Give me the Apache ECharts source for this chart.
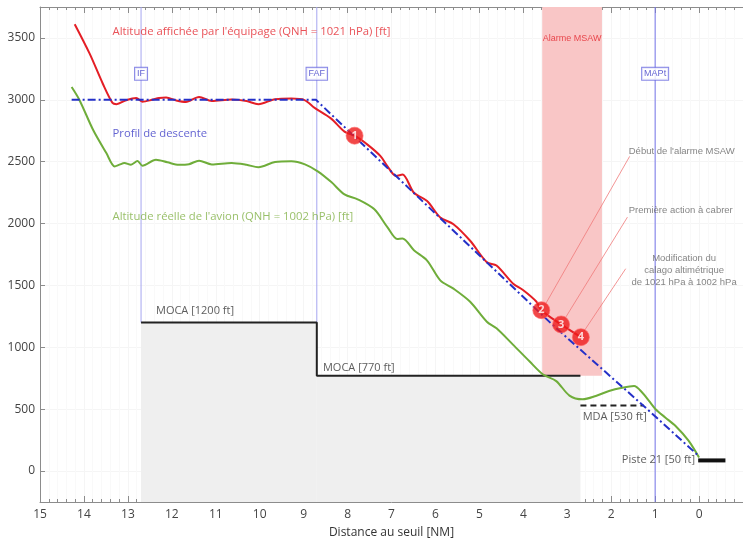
<!DOCTYPE html>
<html>
<head>
<meta charset="utf-8">
<script src="https://cdn.jsdelivr.net/npm/echarts@6/dist/echarts.min.js"></script>
<style>html,body{margin:0;padding:0;background:#fff}#c{width:743px;height:544px}</style>
</head>
<body>
<div id="c"></div>
<script>
// ---- values (x = distance au seuil [NM], y = altitude [ft]) ----
const redAltitude = [[14.21,3611],[13.87,3373],[13.57,3130],[13.35,2975],[13.26,2965],[13.04,2997],[12.81,3015],[12.67,2985],[12.45,3000],[12.29,3015],[12.13,3018],[11.9,2995],[11.68,2983],[11.38,3023],[11.09,2990],[10.64,3002],[10.3,2990],[10.03,2965],[9.65,3005],[9.28,3010],[8.98,2998],[8.75,2935],[8.38,2850],[8.07,2743],[7.84,2710],[7.54,2636],[7.25,2545],[7.09,2462],[6.9,2385],[6.75,2396],[6.49,2249],[6.19,2182],[5.89,2049],[5.59,1995],[5.21,1861],[4.83,1688],[4.61,1661],[4.23,1514],[4.0,1461],[3.7,1368],[3.59,1300],[3.14,1185],[2.69,1082]];
const greenAltitude = [[14.28,3103],[14.1,2997],[13.79,2756],[13.49,2570],[13.3,2462],[13.19,2476],[13.08,2489],[12.93,2476],[12.78,2505],[12.67,2468],[12.36,2516],[12.1,2495],[11.84,2475],[11.61,2480],[11.38,2508],[11.09,2478],[10.64,2489],[10.3,2475],[10.03,2455],[9.65,2497],[9.28,2503],[8.97,2478],[8.67,2420],[8.37,2335],[8.07,2236],[7.77,2196],[7.39,2115],[7.09,1969],[6.87,1875],[6.75,1880],[6.49,1785],[6.19,1701],[5.89,1541],[5.59,1474],[5.21,1368],[4.83,1207],[4.61,1154],[4.23,1020],[3.86,887],[3.55,780],[3.25,727],[2.95,610],[2.65,580],[2.35,607],[2.05,647],[1.75,673],[1.48,687],[1.29,633],[1.14,567],[0.99,500],[0.77,433],[0.54,366],[0.24,246],[0.0,110]];
const descentProfile = [[14.28,3000],[8.72,3000],[7.09,2449],[3.33,1180],[1.26,526],[0.02,126]];
const mocaSteps = [[12.7,1200],[8.7,1200],[8.7,770],[2.7,770]];
const mdaLine = [[2.7,530],[1.26,530]];
const runwayLine = [[0.02,86],[-0.6,86]];
const fixNames = ['IF','FAF','MAPt'];
const fixDistances = [12.7,8.7,1.0];
const fixLineBottoms = [1200,1200,-250];
const eventNumbers = ['1','2','3','4'];
const eventPoints = [[7.84,2710],[3.59,1300],[3.14,1185],[2.69,1082]];
const leaderLines = [
  [[1.58,2543],[3.5,1346]],
  [[1.63,2052],[3.05,1234]],
  [[1.67,1635],[2.62,1130]]
];
const msawBand = [3.57, 2.21, 770];
const xTickLabels = [0,1,2,3,4,5,6,7,8,9,10,11,12,13,14,15];
const yTickLabels = [0,500,1000,1500,2000,2500,3000,3500];
const yMin = -250, yMax = 3750, xMin = -1, xMax = 15;

// ---- annotation texts with their anchor points ----
const textNotes = [
  {t:"Altitude affichée par l'équipage (QNH = 1021 hPa) [ft]", p:[13.35,3549], k:'red'},
  {t:"Profil de descente", p:[13.35,2724], k:'blue'},
  {t:"Altitude réelle de l'avion (QNH = 1002 hPa) [ft]", p:[13.35,2058], k:'green'},
  {t:"Alarme MSAW", p:[2.89,3493], k:'alarm'},
  {t:"Début de l'alarme MSAW", p:[1.6,2587], k:'note'},
  {t:"Première action à cabrer", p:[1.6,2106], k:'note'},
  {t:"Modification du\ncalago altimétrique\nde 1021 hPa à 1002 hPa", p:[0.34,1622], k:'noteC'},
  {t:"MOCA [1200 ft]", p:[12.36,1297], k:'moca'},
  {t:"MOCA [770 ft]", p:[8.56,837], k:'moca'},
  {t:"MDA [530 ft]", p:[2.65,439], k:'moca'},
  {t:"Piste 21 [50 ft]", p:[0.09,92], k:'mocaR'}
];

const textStyles = {
  red:   {position:'right', color:'#e3262d', fontSize:11.3, fontFamily:'Open Sans'},
  blue:  {position:'right', color:'#3b3bc6', fontSize:11.3, fontFamily:'Open Sans'},
  green: {position:'right', color:'#7fb043', fontSize:11.3, fontFamily:'Open Sans'},
  alarm: {position:'inside', color:'#e3262d', fontSize:9, fontFamily:'Liberation Sans'},
  note:  {position:'right', color:'#666', fontSize:9.5, fontFamily:'Liberation Sans'},
  noteC: {position:'inside', color:'#666', fontSize:9.5, fontFamily:'Liberation Sans', lineHeight:12, align:'center'},
  moca:  {position:'right', color:'#333', fontSize:11, fontFamily:'Open Sans'},
  mocaR: {position:'left', color:'#333', fontSize:11, fontFamily:'Open Sans'}
};

const FONT = 'Open Sans';
const axisGrey = '#8c8c8c';

const series = [];

// background areas
series.push({
  type:'line', data:[], z:1, silent:true,
  markArea:{
    silent:true,
    data:[
      [{coord:[12.7,yMin], itemStyle:{color:'#efefef'}},{coord:[8.7,1200]}],
      [{coord:[8.7,yMin], itemStyle:{color:'#efefef'}},{coord:[2.7,770]}],
      [{coord:[msawBand[0],msawBand[2]], itemStyle:{color:'#f9c6c6'}},{coord:[msawBand[1],yMax]}]
    ]
  }
});

// fix vertical lines
fixNames.forEach((n,i)=>{
  series.push({
    type:'line', z:2, silent:true, symbol:'none',
    data:[[fixDistances[i],fixLineBottoms[i]],[fixDistances[i],yMax]],
    lineStyle:{color: n==='MAPt' ? '#7575ea' : '#a6a6f0', width:1}
  });
});

// MOCA steps
series.push({type:'line', z:3, silent:true, symbol:'none', data:mocaSteps, lineStyle:{color:'#222', width:2}});
// MDA
series.push({type:'line', z:3, silent:true, symbol:'none', data:mdaLine, lineStyle:{color:'#222', width:2, type:[6,4]}});
// runway
series.push({type:'line', z:3, silent:true, symbol:'none', data:runwayLine, lineStyle:{color:'#111', width:4}});

// curves
series.push({type:'line', z:4, silent:true, symbol:'none', smooth:0.3, data:greenAltitude, lineStyle:{color:'#6fad3a', width:2}});
series.push({type:'line', z:4, silent:true, symbol:'none', smooth:0.3, data:redAltitude, lineStyle:{color:'#e41e25', width:2}});
series.push({type:'line', z:5, silent:true, symbol:'none', data:descentProfile, lineStyle:{color:'#2430c8', width:2, type:[8,3,2,3]}});

// leader lines
leaderLines.forEach(l=>{
  series.push({type:'line', z:6, silent:true, symbol:'none', data:l, lineStyle:{color:'#f07a7a', width:0.8}});
});

// event circles
series.push({
  type:'scatter', z:7, silent:true, symbol:'circle', symbolSize:17,
  data: eventPoints.map((p,i)=>({name:eventNumbers[i], value:p})),
  itemStyle:{color:'#ee1a1a', borderColor:'#ff6a6a', borderWidth:0.8},
  label:{show:true, position:'inside', formatter:'{b}', color:'#fff', fontWeight:'bold', fontSize:11, fontFamily:FONT}
});

// fix boxes
series.push({
  type:'scatter', z:8, silent:true, symbolSize:0,
  data: fixNames.map((n,i)=>({name:n, value:[fixDistances[i],3210]})),
  itemStyle:{color:'transparent'},
  label:{show:true, position:'inside', formatter:'{b}', color:'#3b3bc6', fontSize:9, fontFamily:'Liberation Sans',
         backgroundColor:'#fff', borderColor:'#6a6ae0', borderWidth:1, padding:[2,2,1,2]}
});

// text notes
series.push({
  type:'scatter', z:9, silent:true, symbolSize:0,
  itemStyle:{color:'transparent'},
  data: textNotes.map(n=>({name:n.t, value:n.p, label:Object.assign({show:true, formatter:'{b}', distance:0}, textStyles[n.k])}))
});

const chart = echarts.init(document.getElementById('c'), null, {renderer:'canvas'});
chart.setOption({
  animation:false,
  backgroundColor:'#fff',
  grid:{left:40, top:7, width:708.4, height:499, containLabel:false},
  xAxis:[{
    type:'value', inverse:true, min:xMin, max:xMax, interval:1, position:'bottom',
    name:'Distance au seuil [NM]', nameLocation:'middle', nameGap:25,
    nameTextStyle:{color:'#333', fontSize:12, fontFamily:FONT},
    axisLine:{show:true, onZero:false, lineStyle:{color:axisGrey}},
    axisTick:{show:true, inside:true, length:6, lineStyle:{color:axisGrey}},
    minorTick:{show:true, splitNumber:5, length:3, lineStyle:{color:axisGrey}},
    axisLabel:{color:'#444', fontSize:12, fontFamily:FONT, margin:7, customValues:xTickLabels, formatter:v=>String(v)},
    splitLine:{show:true, lineStyle:{color:'#f5f5f5'}},
    minorSplitLine:{show:true, lineStyle:{color:'#f9f9f9'}}
  },{
    type:'value', inverse:true, min:xMin, max:xMax, interval:1, position:'top',
    axisLine:{show:true, onZero:false, lineStyle:{color:axisGrey}},
    axisTick:{show:true, inside:true, length:6, lineStyle:{color:axisGrey}},
    minorTick:{show:true, splitNumber:5, length:3, lineStyle:{color:axisGrey}},
    axisLabel:{show:false}, splitLine:{show:false}
  }],
  yAxis:{
    type:'value', min:yMin, max:yMax, interval:250, position:'left',
    axisLine:{show:true, onZero:false, lineStyle:{color:axisGrey}},
    axisTick:{show:true, inside:true, length:5, lineStyle:{color:axisGrey}, customValues:yTickLabels},
    axisLabel:{color:'#444', fontSize:12, fontFamily:FONT, margin:5, customValues:yTickLabels, formatter:v=>String(v)},
    splitLine:{show:true, lineStyle:{color:'#f5f5f5'}}
  },
  series: series
});
</script>
</body>
</html>
